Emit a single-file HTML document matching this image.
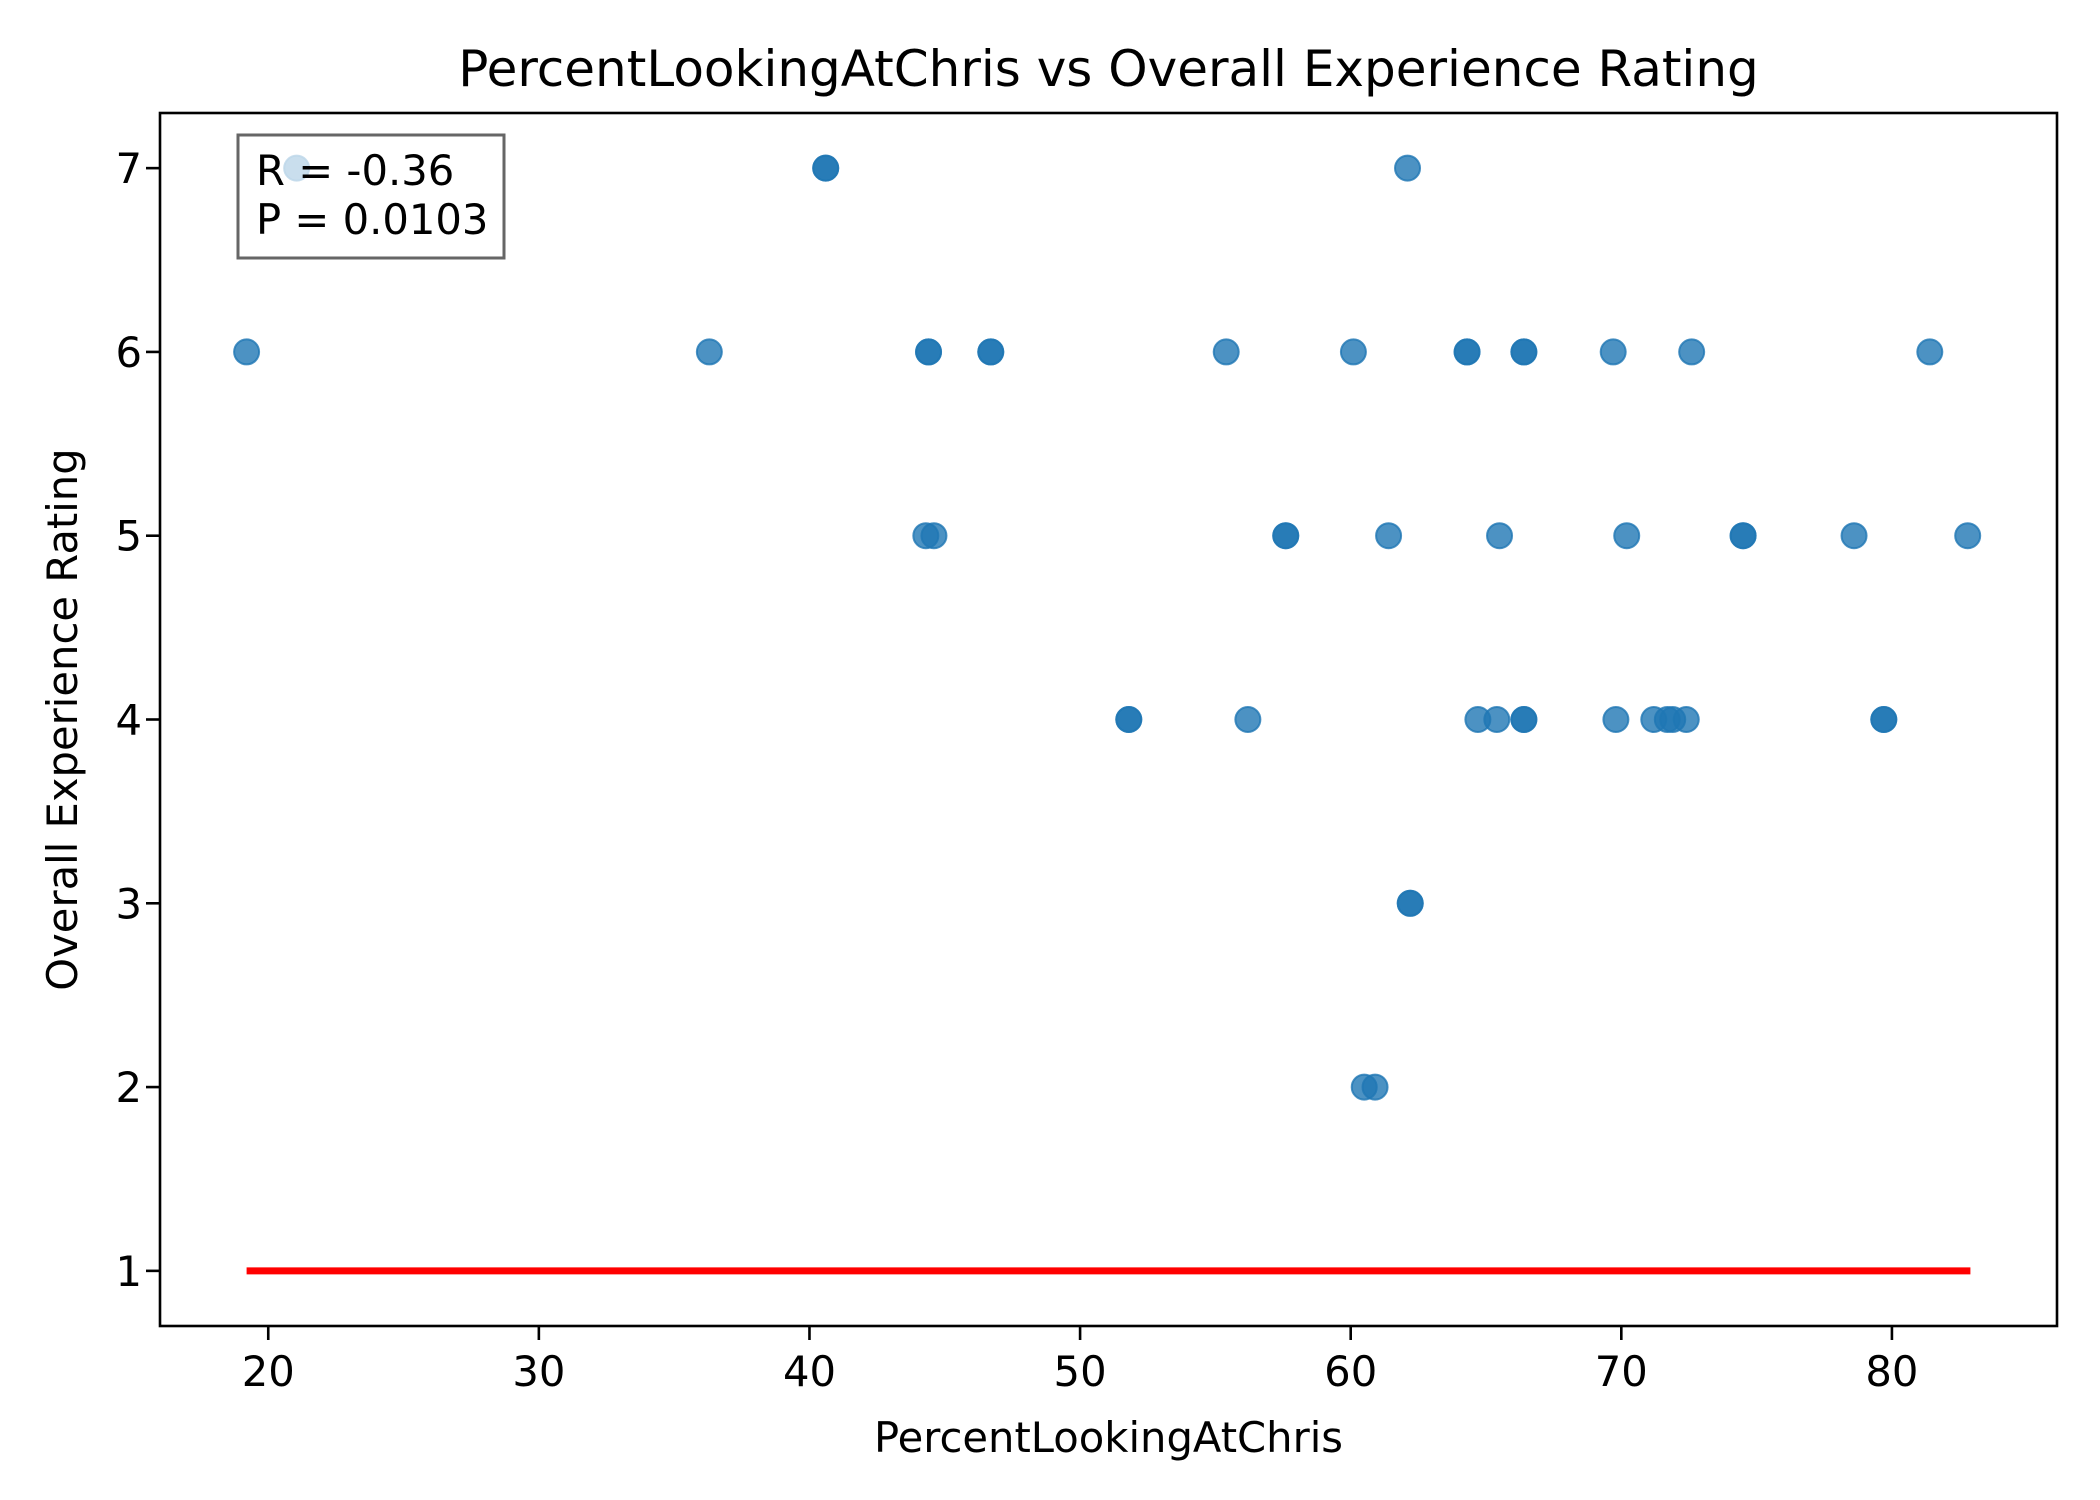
<!DOCTYPE html>
<html><head><meta charset="utf-8"><style>
html,body{margin:0;padding:0;background:#fff;}
svg{display:block;font-family:"DejaVu Sans","Liberation Sans",sans-serif;}
</style></head><body>
<svg id="chart" width="2100" height="1500" viewBox="0 0 2100 1500" xmlns="http://www.w3.org/2000/svg">
<rect width="2100" height="1500" fill="#fff"/>
<g id="marks"></g>
<g id="axes"></g>
</svg>
<script>
const xs5 = [44.3, 44.6, 57.6, 57.6, 61.4, 65.5, 70.2, 74.5, 74.5, 78.6, 82.8];
const xs7 = [21.05, 40.6, 40.6, 62.1];
const xs6 = [19.2, 36.3, 44.4, 44.4, 46.7, 46.7, 55.4, 60.1, 64.3, 64.3, 66.4, 66.4, 69.7, 72.6, 81.4];
const xs4 = [51.8, 51.8, 56.2, 64.7, 65.4, 66.4, 66.4, 69.8, 71.2, 71.7, 71.9, 72.4, 79.7, 79.7];
const xs3 = [62.2, 62.2];
const xs2 = [60.5, 60.9];
const lineX = [19.2, 82.9];
const lineY = [1, 1];
const xTicks = [20, 30, 40, 50, 60, 70, 80];
const yTicks = [1, 2, 3, 4, 5, 6, 7];
const statLines = ["R = -0.36", "P = 0.0103"];

const L=160,R=2057,T=113,B=1326;
const XMIN=16.0,XMAX=86.1,YMIN=0.7,YMAX=7.3;
const sx=v=>L+(v-XMIN)/(XMAX-XMIN)*(R-L);
const sy=v=>B-(v-YMIN)/(YMAX-YMIN)*(B-T);
const NS="http://www.w3.org/2000/svg";
function mk(tag,attrs,parent){const e=document.createElementNS(NS,tag);for(const k in attrs)e.setAttribute(k,attrs[k]);parent.appendChild(e);return e;}
const marks=document.getElementById('marks'), axes=document.getElementById('axes');

const groups=[[7,xs7],[6,xs6],[5,xs5],[4,xs4],[3,xs3],[2,xs2]];
groups.forEach(([yv,arr])=>arr.forEach(xv=>{
  const c=mk('circle',{cx:sx(xv),cy:sy(yv),r:12.5,fill:'#1f77b4','fill-opacity':0.8,stroke:'#1f77b4','stroke-opacity':0.8,'stroke-width':2},marks);
  
  
}));
const ln=mk('line',{x1:sx(lineX[0]),y1:sy(lineY[0]),x2:sx(lineX[1]),y2:sy(lineY[1]),stroke:'#ff0000','stroke-width':7},marks);



const frame=mk('rect',{x:L,y:T,width:R-L,height:B-T,fill:'none',stroke:'#000','stroke-width':2.6},axes);


xTicks.forEach(t=>{
  const x=sx(t);
  mk('line',{x1:x,y1:B,x2:x,y2:B+14,stroke:'#000','stroke-width':2.6},axes);
  const tx=mk('text',{x:x,y:1386,'font-size':41.7,'text-anchor':'middle',fill:'#000'},axes);
  tx.textContent=t;
  
  
});
yTicks.forEach(t=>{
  const y=sy(t);
  mk('line',{x1:L-14,y1:y,x2:L,y2:y,stroke:'#000','stroke-width':2.6},axes);
  const tx=mk('text',{x:142,y:y+15,'font-size':41.7,'text-anchor':'end',fill:'#000'},axes);
  tx.textContent=t;
  
  
});
const box=mk('rect',{x:238,y:135,width:266,height:123,fill:'#fff','fill-opacity':0.7,stroke:'#666','stroke-width':3},axes);


statLines.forEach((s,i)=>{
  const tx=mk('text',{x:256,y:185+i*49,'font-size':41.7,fill:'#000'},axes);
  tx.textContent=s;
  
  
});
const title=mk('text',{x:(L+R)/2,y:86,'font-size':50,'text-anchor':'middle',fill:'#000'},axes);
title.textContent='PercentLookingAtChris vs Overall Experience Rating';


const xl=mk('text',{x:(L+R)/2,y:1452,'font-size':41.7,'text-anchor':'middle',fill:'#000'},axes);
xl.textContent='PercentLookingAtChris';


const yl=mk('text',{x:0,y:0,'font-size':41.7,'text-anchor':'middle',fill:'#000',transform:`translate(77,${(T+B)/2}) rotate(-90)`},axes);
yl.textContent='Overall Experience Rating';


</script>
</body></html>
